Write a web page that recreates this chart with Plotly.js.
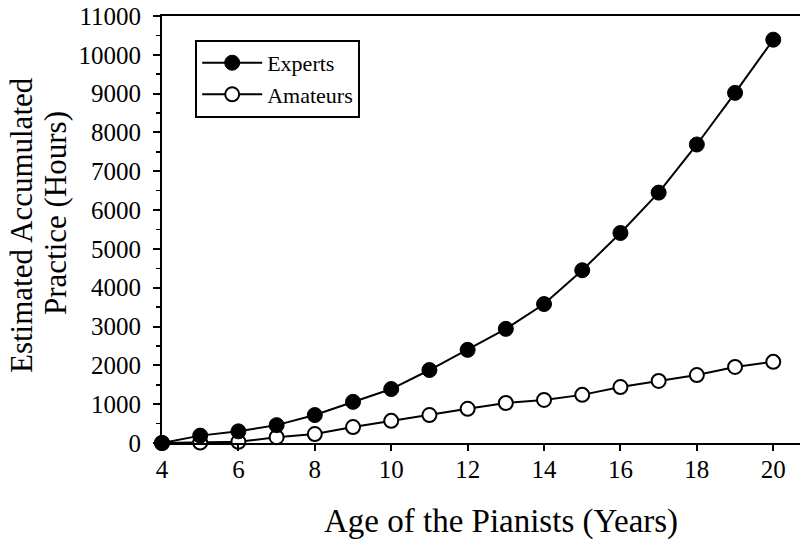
<!DOCTYPE html>
<html>
<head>
<meta charset="utf-8">
<script src="https://cdn.plot.ly/plotly-3.0.1.min.js"></script>
<style>body{margin:0;background:#fff}#chart{width:800px;height:544px}</style>
</head>
<body>
<div id="chart"></div>
<script>
const ages = [4, 5, 6, 7, 8, 9, 10, 11, 12, 13, 14, 15, 16, 17, 18, 19, 20];
const experts = [0, 190, 300, 460, 720, 1060, 1390, 1880, 2400, 2940, 3580, 4450, 5410, 6450, 7690, 9020, 10390];
const amateurs = [0, 10, 30, 150, 230, 410, 570, 720, 880, 1030, 1110, 1240, 1440, 1600, 1750, 1960, 2090];
const xTicks = [4, 6, 8, 10, 12, 14, 16, 18, 20];
const yTicks = [0, 1000, 2000, 3000, 4000, 5000, 6000, 7000, 8000, 9000, 10000, 11000];
const xTitle = 'Age of the Pianists (Years)';
const yTitleLines = ['Estimated Accumulated', 'Practice (Hours)'];

const font = 'Liberation Serif, Times New Roman, serif';

const traces = [
  {
    x: ages, y: amateurs, name: 'Amateurs', type: 'scatter', mode: 'lines+markers',
    cliponaxis: false,
    line: {color: '#000', width: 2},
    marker: {symbol: 'circle', size: 14, color: '#fff', line: {color: '#000', width: 2}}
  },
  {
    x: ages, y: experts, name: 'Experts', type: 'scatter', mode: 'lines+markers',
    cliponaxis: false,
    line: {color: '#000', width: 2},
    marker: {symbol: 'circle', size: 15, color: '#000', line: {color: '#000', width: 1}}
  }
];

const layout = {
  width: 800, height: 544,
  margin: {l: 162, r: 0, t: 16, b: 101},
  paper_bgcolor: '#fff', plot_bgcolor: '#fff',
  font: {family: font, color: '#000', size: 22},
  showlegend: true,
  legend: {
    x: 0.052, y: 0.944, xanchor: 'left', yanchor: 'top',
    traceorder: 'reversed',
    bordercolor: '#000', borderwidth: 2, bgcolor: '#fff',
    font: {family: font, size: 22, color: '#000'},
    itemwidth: 60
  },
  xaxis: {
    range: [4, 20.7],
    tickvals: xTicks, ticktext: xTicks.map(String),
    ticks: 'outside', ticklen: 6, tickwidth: 2, tickcolor: '#000',
    ticklabelstandoff: -3,
    showline: true, linecolor: '#000', linewidth: 2, mirror: true,
    showgrid: false, zeroline: false,
    tickfont: {family: font, size: 25, color: '#000'}
  },
  yaxis: {
    range: [0, 11000],
    tickvals: yTicks, ticktext: yTicks.map(String),
    ticks: 'outside', ticklen: 7, tickwidth: 2, tickcolor: '#000',
    ticklabelstandoff: 7,
    minor: {dtick: 500, ticks: 'outside', ticklen: 4, tickwidth: 1.5, tickcolor: '#000', showgrid: false},
    showline: true, linecolor: '#000', linewidth: 2, mirror: false,
    showgrid: false, zeroline: false,
    tickfont: {family: font, size: 25, color: '#000'}
  },
  annotations: [
    {text: xTitle, xref: 'paper', yref: 'paper', x: 0.5313, y: -0.1827,
     xanchor: 'center', yanchor: 'middle', showarrow: false,
     font: {family: font, size: 33, color: '#000'}},
    {text: yTitleLines[0], xref: 'paper', yref: 'paper', x: -0.221, y: 0.5105,
     xanchor: 'center', yanchor: 'middle', showarrow: false, textangle: -90,
     font: {family: font, size: 31, color: '#000'}},
    {text: yTitleLines[1], xref: 'paper', yref: 'paper', x: -0.1677, y: 0.5386,
     xanchor: 'center', yanchor: 'middle', showarrow: false, textangle: -90,
     font: {family: font, size: 31, color: '#000'}}
  ]
};

Plotly.newPlot('chart', traces, layout, {displayModeBar: false, staticPlot: true});
</script>
</body>
</html>
